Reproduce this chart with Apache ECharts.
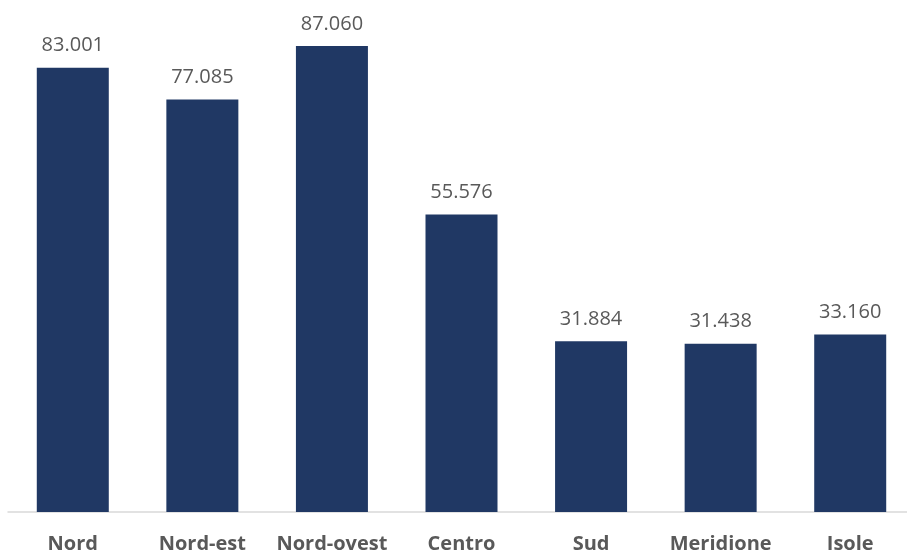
<!DOCTYPE html>
<html>
<head>
<meta charset="utf-8">
<script src="https://cdn.jsdelivr.net/npm/echarts@6/dist/echarts.min.js"></script>
<style>html,body{margin:0;padding:0;background:#fff}#c{width:907px;height:556px}</style>
</head>
<body>
<div id="c"></div>
<script>
const categories = ['Nord', 'Nord-est', 'Nord-ovest', 'Centro', 'Sud', 'Meridione', 'Isole'];
const values = [83001, 77085, 87060, 55576, 31884, 31438, 33160];

function fmt(v) {
  return String(v).replace(/\B(?=(\d{3})+(?!\d))/g, '.');
}

const chart = echarts.init(document.getElementById('c'), null, {renderer: 'canvas'});
chart.setOption({
  animation: false,
  backgroundColor: '#ffffff',
  grid: {left: 8, right: -8, top: 30.3, bottom: 44, containLabel: false, outerBoundsMode: 'none'},
  xAxis: {
    type: 'category',
    data: categories,
    axisLine: {show: true, lineStyle: {color: '#d9d9d9', width: 1.5}},
    axisTick: {show: false},
    axisLabel: {
      color: '#595959', fontFamily: 'Open Sans', fontWeight: 'bold', fontSize: 20,
      margin: 22, interval: 0
    }
  },
  yAxis: {
    type: 'value', min: 0, max: 90000, show: false,
    splitLine: {show: false}
  },
  series: [{
    type: 'bar',
    data: values,
    barWidth: 72,
    itemStyle: {color: '#203864'},
    label: {
      show: true, position: 'top', distance: 12,
      color: '#595959', fontFamily: 'Open Sans', fontSize: 20,
      formatter: p => fmt(p.value)
    }
  }]
});
</script>
</body>
</html>
